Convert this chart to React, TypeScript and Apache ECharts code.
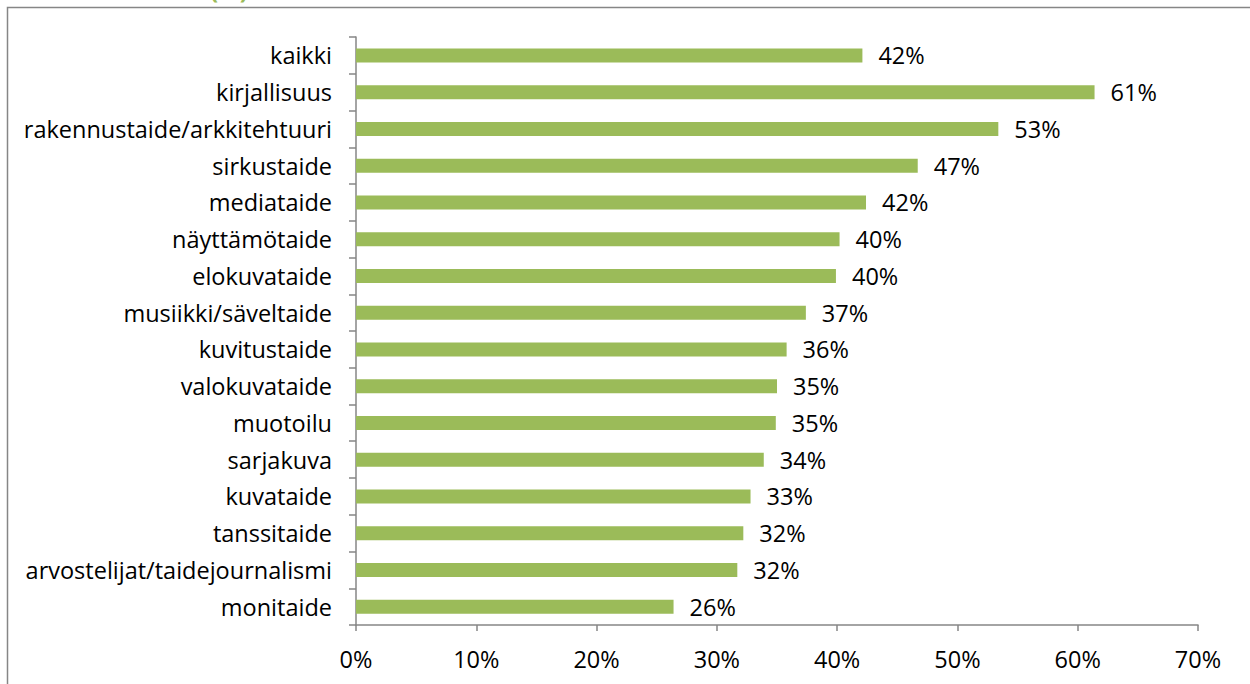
import React, { useEffect, useRef } from "react";
import * as echarts from "echarts";

const categories = [
  "kaikki",
  "kirjallisuus",
  "rakennustaide/arkkitehtuuri",
  "sirkustaide",
  "mediataide",
  "näyttämötaide",
  "elokuvataide",
  "musiikki/säveltaide",
  "kuvitustaide",
  "valokuvataide",
  "muotoilu",
  "sarjakuva",
  "kuvataide",
  "tanssitaide",
  "arvostelijat/taidejournalismi",
  "monitaide",
];

const values = [42.1, 61.4, 53.4, 46.7, 42.4, 40.2, 39.9, 37.4, 35.8, 35.0, 34.9, 33.9, 32.8, 32.2, 31.7, 26.4];

const xTicks = [0, 10, 20, 30, 40, 50, 60, 70];

const FONT = "'Open Sans', 'Noto Sans', sans-serif";
const GREEN = "#9BBB59";
const AXIS = "#868686";
const FS = 23.5;

export default function App() {
  const ref = useRef<HTMLDivElement>(null);
  useEffect(() => {
    if (!ref.current) return;
    const chart = echarts.init(ref.current, null, { renderer: "svg" });
    chart.setOption({
      animation: false,
      backgroundColor: "#ffffff",
      textStyle: { fontFamily: FONT },
      graphic: [
        {
          type: "rect",
          shape: { x: 7.5, y: 7.5, width: 1300, height: 800 },
          style: { fill: "none", stroke: AXIS, lineWidth: 1.5 },
          silent: true,
        },
        {
          type: "text",
          left: 210,
          top: -23,
          style: { text: "(%)", fill: GREEN, font: "bold 24px " + FONT },
          silent: true,
        },
      ],
      grid: { left: 356, right: 52, top: 37, bottom: 59, containLabel: false },
      xAxis: {
        type: "value",
        min: xTicks[0],
        max: xTicks[xTicks.length - 1],
        interval: 10,
        axisLine: { show: true, lineStyle: { color: AXIS, width: 1.5 } },
        axisTick: { show: true, length: 6, lineStyle: { color: AXIS, width: 1.5 } },
        splitLine: { show: false },
        axisLabel: {
          formatter: (v: number) => v + "%",
          color: "#000",
          fontSize: FS,
          fontFamily: FONT,
          margin: 22,
        },
      },
      yAxis: {
        type: "category",
        data: categories,
        inverse: true,
        axisLine: { show: true, lineStyle: { color: AXIS, width: 1.5 } },
        axisTick: { show: true, length: 7, alignWithLabel: false, lineStyle: { color: AXIS, width: 1.5 } },
        axisLabel: {
          color: "#000",
          fontSize: FS,
          fontFamily: FONT,
          margin: 24,
        },
      },
      series: [
        {
          type: "bar",
          data: values,
          barWidth: 14,
          itemStyle: { color: GREEN },
          label: {
            show: true,
            position: "right",
            distance: 16,
            color: "#000",
            fontSize: FS,
            fontFamily: FONT,
            formatter: (p: any) => Math.round(p.value) + "%",
          },
        },
      ],
    });
    return () => chart.dispose();
  }, []);
  return (
    <div
      ref={ref}
      style={{ position: "absolute", left: 0, top: 0, width: 1250, height: 684 }}
    />
  );
}
